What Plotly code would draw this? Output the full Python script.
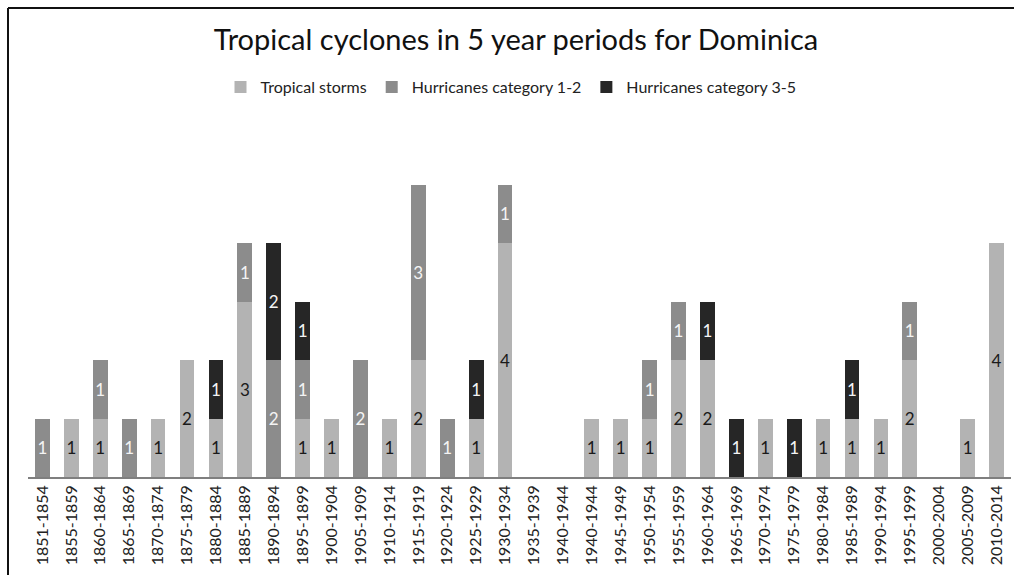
import plotly.graph_objects as go

periods = ["1851-1854", "1855-1859", "1860-1864", "1865-1869", "1870-1874", "1875-1879",
           "1880-1884", "1885-1889", "1890-1894", "1895-1899", "1900-1904", "1905-1909",
           "1910-1914", "1915-1919", "1920-1924", "1925-1929", "1930-1934", "1935-1939",
           "1940-1944", "1940-1944", "1945-1949", "1950-1954", "1955-1959", "1960-1964",
           "1965-1969", "1970-1974", "1975-1979", "1980-1984", "1985-1989", "1990-1994",
           "1995-1999", "2000-2004", "2005-2009", "2010-2014"]

tropical_storms = [0, 1, 1, 0, 1, 2, 1, 3, 0, 1, 1, 0, 1, 2, 0, 1, 4, 0,
                   0, 1, 1, 1, 2, 2, 0, 1, 0, 1, 1, 1, 2, 0, 1, 4]
hurricanes_1_2 = [1, 0, 1, 1, 0, 0, 0, 1, 2, 1, 0, 2, 0, 3, 1, 0, 1, 0,
                  0, 0, 0, 1, 1, 0, 0, 0, 0, 0, 0, 0, 1, 0, 0, 0]
hurricanes_3_5 = [0, 0, 0, 0, 0, 0, 1, 0, 2, 1, 0, 0, 0, 0, 0, 1, 0, 0,
                  0, 0, 0, 0, 0, 1, 1, 0, 1, 0, 1, 0, 0, 0, 0, 0]

series = [
    ("Tropical storms", tropical_storms, "#b3b3b3", "#1a1a1a"),
    ("Hurricanes category 1-2", hurricanes_1_2, "#8c8c8c", "#f4f4f4"),
    ("Hurricanes category 3-5", hurricanes_3_5, "#262626", "#f4f4f4"),
]

FONT = "Lato, 'Open Sans', sans-serif"
xpos = list(range(len(periods)))

fig = go.Figure()
for name, vals, color, tcolor in series:
    y = [v if v else None for v in vals]
    fig.add_trace(go.Bar(
        name=name, x=xpos, y=y,
        marker=dict(color=color, line=dict(width=0)),
        text=[str(v) if v else "" for v in vals],
        textposition="inside", insidetextanchor="middle",
        textangle=0,
        textfont=dict(family=FONT, size=17, color=tcolor),
        hoverinfo="skip",
    ))

# Outer frame (top and left edges, as in the reference crop)
fl = (8 - 28) / 983
ft = (477 - 8) / 351
fb = (477 - 580) / 351
fig.add_shape(type="line", xref="paper", yref="paper", x0=fl, x1=1.01, y0=ft, y1=ft,
              line=dict(color="#111111", width=2))
fig.add_shape(type="line", xref="paper", yref="paper", x0=fl, x1=fl, y0=fb, y1=ft,
              line=dict(color="#111111", width=2))

fig.update_layout(
    barmode="stack",
    bargap=0.49,
    width=1014, height=575,
    margin=dict(l=28, r=3, t=126, b=98),
    paper_bgcolor="white", plot_bgcolor="white",
    font=dict(family=FONT, color="#222222"),
    uniformtext=dict(mode="show", minsize=17),
    title=dict(text="Tropical cyclones in 5 year periods for Dominica",
               x=(516 - 28) / 983, xref="paper", xanchor="center",
               y=1 - 40 / 575, yanchor="middle", yref="container",
               font=dict(family=FONT, size=29, color="#111111")),
    legend=dict(orientation="h", x=(511 - 28) / 983, xanchor="center", y=1 - 87 / 575,
                yref="container", yanchor="middle",
                font=dict(family=FONT, size=16, color="#222222"),
                itemwidth=30, traceorder="normal", itemclick=False),
    showlegend=True,
)
fig.update_xaxes(
    tickmode="array", tickvals=xpos, ticktext=periods,
    range=[-0.5, len(periods) - 0.5],
    tickangle=-90, tickfont=dict(family=FONT, size=16, color="#222222"),
    showline=True, linecolor="#7f7f7f", linewidth=1.5,
    ticks="", showgrid=False, zeroline=False,
)
fig.update_yaxes(range=[0, 6], visible=False, showgrid=False, zeroline=False)

fig.write_html("out.html")
